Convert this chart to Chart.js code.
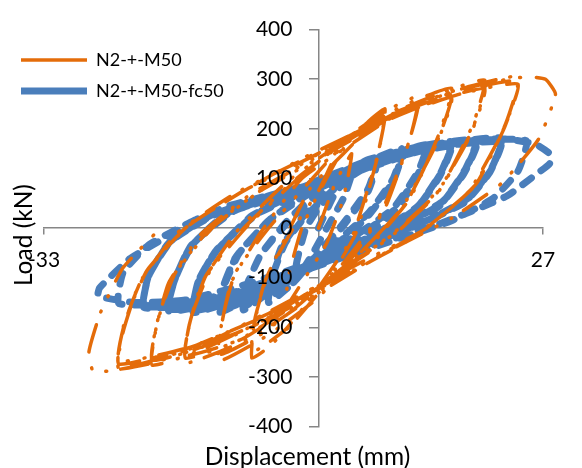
<!DOCTYPE html>
<html>
<head>
<meta charset="utf-8">
<title>Load - displacement loops</title>
<script src="https://cdn.jsdelivr.net/npm/chart.js@4.4.1/dist/chart.umd.min.js"></script>
<style>
  html, body { margin: 0; padding: 0; background: #fff; }
</style>
</head>
<body>
<canvas id="loopChart" width="582" height="468"></canvas>
<script>
// N2-+-M50 : displacement (mm) / load (kN)
const m50Disp = [
  0, 2, 4, 3, 1, -2, -4, -3.5, -2, 0,
  3, 6, 8, 7.2, 4.5, 1, -3, -6, -8, -7.8, -6.5, -4, -1,
  3, 6, 8, 7, 4, 0, -4, -8, -7.6, -6, -3, 0,
  3, 8, 12, 11, 8, 4, 0, -6, -12, -11.7, -10.5, -7, -2,
  4, 9, 12, 10.8, 7.5, 3, -2, -7, -12, -11.5, -10, -6, -1,
  4, 10, 16, 14.5, 11, 6, 0, -8, -16, -15.6, -14, -10, -4,
  3, 10, 16, 14.4, 10.5, 5, -2, -9, -16, -15.4, -13.5, -9, -3,
  3, 10, 16, 14.2, 10, 4.5, -2.5, -9.5, -16, -15.2, -13, -8.5, -3,
  2, 10, 16, 20, 18.6, 15, 10, 3, -6, -14, -20, -19.5, -18, -14, -8,
  0, 8, 15, 20, 18.4, 14.5, 9, 2, -7, -14, -20, -19.4, -17.6, -13, -7,
  0, 8, 15, 20, 18.2, 14, 8.5, 1.5, -7.5, -14.5, -20, -19.2, -17.2, -12.5, -7,
  0, 8, 16, 24, 22.5, 19, 13, 5, -5, -14, -24, -23.5, -21.5, -17, -10,
  -1, 8, 17, 24, 22.3, 18.5, 12, 4, -6, -15, -24, -23.4, -21, -16, -9,
  -1, 8, 17, 24, 22, 18, 11.5, 3.5, -6.5, -15.5, -24, -23.2, -20.6, -15.6, -9,
  -2, 8, 18, 25, 27.3, 28.5, 26.5, 22, 16, 8, 0, -10, -20, -27, -27.6, -26.2, -23.5, -19
];
const m50Load = [
  0, 90, 150, 60, -30, -110, -160, -90, 0, 70,
  160, 215, 240, 150, -10, -110, -190, -240, -262, -200, -110, -20, 80,
  150, 200, 228, 140, -20, -120, -205, -250, -180, -90, 0, 75,
  175, 235, 265, 180, 40, -60, -140, -215, -268, -200, -110, -10, 100,
  170, 225, 252, 170, 30, -70, -150, -215, -255, -180, -90, 0, 95,
  185, 245, 282, 190, 60, -40, -130, -220, -272, -200, -110, -10, 90,
  175, 238, 270, 180, 50, -50, -145, -222, -262, -185, -95, 0, 95,
  170, 232, 262, 170, 40, -58, -150, -225, -256, -175, -85, 5, 92,
  160, 240, 280, 298, 210, 90, 0, -80, -180, -245, -276, -200, -110, -10, 70,
  145, 220, 268, 288, 195, 75, -10, -95, -190, -240, -266, -190, -100, 0, 75,
  140, 215, 262, 280, 185, 65, -20, -100, -195, -240, -260, -180, -90, 5, 75,
  150, 225, 275, 305, 210, 90, 0, -70, -160, -235, -282, -210, -110, -10, 70,
  145, 222, 275, 296, 200, 80, -10, -85, -172, -238, -274, -195, -95, 0, 75,
  142, 218, 270, 290, 190, 72, -18, -92, -178, -240, -268, -185, -85, 5, 75,
  140, 220, 285, 305, 300, 270, 180, 90, 20, -50, -130, -215, -272, -290, -250, -170, -80, 0
];

// N2-+-M50-fc50
const fc50Disp = [
  0, 2, 4, 3, 1, -1, -3, -2.5, -1.5, 0,
  3, 7, 6, 3, 0, -3, -6, -5.6, -4.5, -2, 1,
  4, 7, 6, 3, 0, -3, -6, -5.5, -4, -1.5, 1,
  5, 10, 9, 6, 2, -3, -9, -8.6, -7, -4, 0,
  5, 10, 9, 6, 2, -3, -9, -8.5, -6.8, -3.5, 0,
  6, 13, 12, 9, 4, -2, -7, -12, -11.5, -10, -6, -1,
  6, 13, 12, 9, 4, -2, -7, -12, -11.4, -9.8, -5.8, -1,
  6, 13, 12, 9, 4, -2, -7, -12, -11.2, -9.5, -5.5, -1,
  6, 11, 16, 14.8, 12, 7, 1, -6, -15, -14.5, -12.5, -8, -2,
  6, 11, 16, 14.7, 11.8, 6.8, 0.5, -6, -15, -14.4, -12.3, -7.6, -2,
  6, 11, 16, 14.6, 11.6, 6.5, 0, -6, -15, -14.2, -12, -7.2, -2,
  6, 13, 19, 17.7, 15, 10, 3, -5, -12, -18, -17.4, -15.5, -11, -4,
  6, 13, 19, 17.6, 14.8, 9.6, 2.6, -5, -12, -18, -17.3, -15.3, -10.6, -4,
  6, 13, 19, 17.5, 14.6, 9.2, 2.2, -5, -12, -18, -17.2, -15, -10.2, -4,
  4, 12, 17, 22, 20.8, 18, 13, 6, -2, -10, -16, -21, -20.5, -18, -13, -6,
  4, 12, 17, 22, 20.7, 17.8, 12.6, 5.6, -2, -10, -16, -21, -20.4, -17.8, -12.6, -6,
  4, 12, 17, 22, 20.6, 17.6, 12.2, 5.2, -2, -10, -16, -21, -20.3, -17.6, -12.2, -6,
  2, 10, 18, 25, 24, 21, 16, 9, 1, -8, -16, -24, -23.5, -20.5, -15, -8,
  0, 8, 16, 22, 26, 27.8, 27.8, 26.3, 22.7, 19, 14, 5, 0, -8, -16, -22, -26.5,
  -26.3, -22.7, -18.7, -14.6, -10.6, -4.6, 0
];
const fc50Load = [
  0, 70, 110, 60, 0, -60, -110, -60, 0, 40,
  100, 140, 80, 10, -50, -110, -150, -100, -40, 20, 70,
  105, 132, 75, 5, -55, -105, -140, -95, -30, 25, 65,
  125, 160, 100, 30, -30, -90, -165, -115, -55, 10, 75,
  118, 152, 95, 25, -35, -95, -158, -110, -50, 15, 70,
  130, 168, 115, 40, -20, -80, -130, -170, -120, -60, 15, 75,
  126, 162, 110, 35, -25, -85, -135, -165, -115, -55, 18, 72,
  122, 158, 105, 30, -30, -90, -140, -160, -110, -50, 20, 70,
  135, 160, 174, 115, 45, -10, -60, -120, -170, -110, -50, 25, 75,
  132, 156, 170, 110, 40, -15, -65, -125, -166, -105, -45, 28, 73,
  128, 152, 166, 105, 35, -20, -70, -130, -162, -100, -40, 30, 70,
  138, 166, 178, 120, 55, 5, -45, -105, -150, -167, -110, -40, 30, 70,
  136, 163, 174, 115, 50, 0, -50, -110, -152, -163, -105, -35, 32, 69,
  133, 160, 170, 110, 45, -5, -55, -115, -155, -160, -100, -30, 34, 67,
  115, 160, 175, 181, 120, 60, 15, -30, -80, -130, -155, -160, -100, -30, 25, 65,
  112, 157, 172, 177, 116, 56, 12, -34, -84, -133, -157, -156, -96, -27, 27, 63,
  110, 154, 169, 173, 112, 52, 8, -38, -88, -136, -158, -152, -92, -24, 29, 61,
  100, 155, 176, 176, 115, 60, 15, -25, -70, -120, -150, -152, -90, -35, 15, 55,
  92, 145, 172, 180, 170, 150, 130, 110, 65, 38, 5, -42, -65, -110, -145, -150, -137,
  -120, -62, -22, 18, 46, 71, 88
];

const xTicks = [-33, 27];
const yMin = -400;
const yMax = 400;
const yStep = 100;

const toPoints = (xs, ys) => xs.map((x, i) => ({ x: x, y: ys[i] }));

Chart.defaults.font.family = 'Lato';
Chart.defaults.color = '#000';

const axisGrey = '#868686';
const tickFont = { family: 'Lato', size: 21 };
const titleFont = { family: 'Lato', size: 24.5 };

// legend sits inside the plot at the top-left, axis titles a bit off-centre,
// and the load labels need pushing clear of the axis line at x = 0
const nudge = {
  id: 'nudge',
  afterLayout(chart) {
    chart.legend.left = 8;
    chart.legend.top = 38;
    chart.scales.xTitle.left += 14;
    chart.scales.xTitle.right += 14;
    chart.scales.yTitle.top += 7;
    chart.scales.yTitle.bottom += 7;
  },
  beforeDraw(chart) {
    const items = chart.scales.y.getLabelItems();
    if (!items.shifted) {
      items.forEach(item => { item.options.translation[0] -= 26; });
      items.shifted = true;
    }
  }
};

new Chart(document.getElementById('loopChart'), {
  type: 'scatter',
  data: {
    datasets: [
      {
        label: 'N2-+-M50',
        data: toPoints(m50Disp, m50Load),
        xAxisID: 'x',
        yAxisID: 'y',
        showLine: true,
        borderColor: '#E46C0A',
        backgroundColor: '#E46C0A',
        borderWidth: 3.5,
        borderDash: [28, 14, 1, 16, 1, 16],
        borderCapStyle: 'round',
        borderJoinStyle: 'round',
        tension: 0.15,
        pointRadius: 0,
        clip: false
      },
      {
        label: 'N2-+-M50-fc50',
        data: toPoints(fc50Disp, fc50Load),
        xAxisID: 'x',
        yAxisID: 'y',
        showLine: true,
        borderColor: '#4A7EBB',
        backgroundColor: '#4A7EBB',
        borderWidth: 7,
        borderDash: [11, 12],
        borderCapStyle: 'round',
        borderJoinStyle: 'round',
        tension: 0.15,
        pointRadius: 0,
        clip: false
      }
    ]
  },
  options: {
    responsive: false,
    animation: false,
    layout: { padding: { top: 24, right: 39, bottom: 0, left: 0 } },
    plugins: {
      tooltip: { enabled: false },
      legend: {
        position: 'chartArea',
        align: 'start',
        labels: {
          usePointStyle: true,
          pointStyle: 'line',
          pointStyleWidth: 66,
          padding: 13,
          font: { family: 'Lato', size: 18 },
          color: '#000'
        }
      }
    },
    scales: {
      x: {
        type: 'linear',
        min: xTicks[0],
        max: xTicks[xTicks.length - 1],
        position: { y: 0 },
        afterBuildTicks: (scale) => {
          scale.ticks = xTicks.map(v => ({ value: v }));
        },
        grid: { display: true, drawOnChartArea: false, drawTicks: true, tickLength: 6, color: axisGrey, lineWidth: 1.5 },
        border: { display: true, color: axisGrey, width: 1.5 },
        ticks: { font: tickFont, color: '#000', padding: 14, maxRotation: 0, autoSkip: false }
      },
      y: {
        type: 'linear',
        min: yMin,
        max: yMax,
        position: { x: 0 },
        grid: { display: true, drawOnChartArea: false, drawTicks: true, tickLength: 9, color: axisGrey, lineWidth: 1.5 },
        border: { display: true, color: axisGrey, width: 1.5 },
        ticks: { stepSize: yStep, font: tickFont, color: '#000', padding: 17, z: 1 }
      },
      xTitle: {
        type: 'linear',
        position: 'bottom',
        grid: { display: false, drawTicks: false },
        border: { display: false },
        ticks: { display: false },
        title: { display: true, text: 'Displacement (mm)', font: titleFont, color: '#000', padding: { top: 15.7, bottom: -3.7 } }
      },
      yTitle: {
        type: 'linear',
        position: 'left',
        grid: { display: false, drawTicks: false },
        border: { display: false },
        ticks: { display: false },
        title: { display: true, text: 'Load (kN)', font: titleFont, color: '#000', padding: { top: 9.3, bottom: 5.3 } }
      }
    }
  },
  plugins: [nudge]
});
</script>
</body>
</html>
